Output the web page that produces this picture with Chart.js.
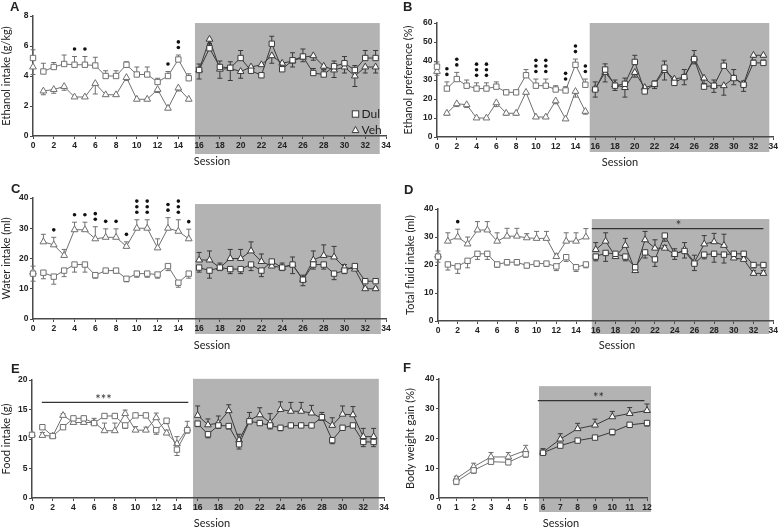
<!DOCTYPE html>
<html><head><meta charset="utf-8">
<script src="https://cdn.jsdelivr.net/npm/chart.js@4"></script>
<style>
html,body{margin:0;padding:0;background:#fff;}
#wrap{position:relative;width:780px;height:527px;overflow:hidden;background:#fff;}
#wrap canvas{position:absolute;left:0;top:0;}
</style>
</head><body><div id="wrap"></div>
<script>
// ---------- DATA ----------
const sessions = [1,2,3,4,5,6,7,8,9,10,11,12,13,14,15,16,17,18,19,20,21,22,23,24,25,26,27,28,29,30,31,32,33];
const sessionsF = [1,2,3,4,5,6,7,8,9,10,11,12];
const sigSessions = [1,2,3,4,5,6,7,8,9,10,11,12,13,14,15];
const seriesNames = ['Dul','Veh'];

// A: Ethanol intake (g/kg)
const A_dul = [4.3,4.6,4.8,4.75,4.75,4.7,4.0,4.0,4.75,4.1,4.1,3.6,4.0,5.1,3.85, 4.4,5.85,4.6,4.55,5.2,4.35,4.05,6.15,4.45,5.05,5.3,4.2,4.1,4.65,4.85,4.4,5.2,5.2];
const A_veh = [3.0,3.1,3.3,2.6,2.6,3.5,2.75,2.75,3.9,2.45,2.45,3.1,1.85,3.2,2.45, 4.4,6.45,4.45,4.5,4.3,4.6,4.75,5.35,4.85,5.0,5.25,5.35,4.65,4.4,4.6,4.0,4.6,4.6];
const A_dulErr = [0.55,0.3,0.6,0.55,0.55,0.55,0.35,0.35,0.2,0.5,0.5,0.25,0.3,0.3,0.3, 0.4,0.3,0.4,0.4,0.5,0.3,0.1,0.5,0.2,0.5,0.5,0.3,0.3,0.35,0.45,0.3,0.5,0.5];
const A_vehErr = [0.25,0.25,0.25,0.1,0.1,0.7,0.1,0.1,0.2,0.1,0.1,0.2,0.1,0.2,0.1, 0.6,0.3,0.6,0.8,0.45,0.3,0.1,0.5,0.1,0.4,0.3,0.3,0.2,0.5,0.4,0.7,0.4,0.4];
const A_base = [5.2, 4.6];
const A_baseErr = [0.55, 0.5];
const A_sig = [0,0,0,1,1,0,0,0,0,0,0,0,1,2,0];

// B: Ethanol preference (%)
const B_dul = [25.5,30.5,27,25.5,25.5,26.5,23.5,23.5,32.5,27,27,25,24.5,38,27.5, 25,35.5,27,28,39.5,24,28,36.5,28.5,31.5,41,26.5,27,37.5,31,27.5,39,39];
const B_veh = [12.5,17.5,17,10,10,18,12.5,12.5,23.5,10.5,10.5,19,9.5,24,13.5, 25.5,34,27.5,26,34,26,27.5,35,30.5,31.5,41.5,31,27,27,31,28,43,43];
const B_dulErr = [3.5,3.5,3,3,3,2.5,0.5,0.5,3,3.5,3.5,2,2,3,3, 4,3,3,3,3.5,2,1.5,3.5,1.5,4,4.5,1.5,3,3,4.5,2,1.5,1.5];
const B_vehErr = [1,1.5,1.5,0.5,0.5,2,1,1,1,0.5,0.5,1.5,0.5,3,1.5, 4.5,5,3,5,2.5,3,2,5,2,4,3,3,3.5,5,3.5,4,1,1];
const B_base = [37, 34.5];
const B_baseErr = [2.5, 2];
const B_sig = [2,2,0,3,3,0,0,0,0,3,3,0,2,2,2];

// C: Water intake (ml)
const C_dul = [15.3,14,16,18,18,14.5,16,16,13.3,15,15,14.7,17.5,12,15, 17,16,17,16.5,16.5,18,16,19,17,18,13,18,18,15,16,17.5,12.5,12.5];
const C_veh = [25.5,24.5,21,29.5,29.5,26.5,27,27,24,30,30,23.5,30,29,26.5, 19.5,19.5,17,20,20,22.5,19,17.5,17,18,13,19.5,21,20.5,17,16.5,10,10];
const C_dulErr = [2,2.5,2,2.5,2.5,1,0.8,0.8,1,1.2,1.2,1.2,1.5,1.5,1.5, 1.5,2.5,1,1.5,1.5,2,2,1,1,3,2,1.5,1.5,2,1,1,0.5,0.5];
const C_vehErr = [2.5,2.5,2,2.5,2.5,4,2.8,2.8,1.5,2.8,2.8,3,3.5,3.8,3.2, 2.5,3,1.5,3,3,3,2.5,1.5,1.5,2.5,1.5,3,3.5,3.5,1,1,0.5,0.5];
const C_base = [15, 15.5];
const C_baseErr = [2.5, 2];
const C_sig = [0,1,0,1,1,2,1,1,1,3,3,0,2,3,1];

// D: Total fluid intake (ml)
const D_dul = [20.2,19.5,21.5,24,24,20.2,21,21,19.8,20.5,20.5,19.5,22.8,19.2,20.2, 23,24.3,24,23,19.2,24.5,22,30.5,24,25,20.5,23.7,24,23.7,24,24,20,20];
const D_veh = [28.5,30,27.5,32.5,32.5,28.5,30.3,30.3,29.7,29.5,29.5,23,28.5,28.5,30, 25.5,28.5,23,27,18,29,26,26,23.8,25.5,21,27.5,28.3,27,22.5,22,17,17];
const D_dulErr = [2,2.5,2.5,2,2,1,1,1,0.8,1,1,1.5,1.5,1.5,1.2, 1.5,3,1,1.5,1.5,2,2.5,2,2,2.5,2.5,1.5,3,3,1.5,1.5,1,1];
const D_vehErr = [3,2.8,2.5,3,3,3,2.8,2.8,1.5,2.5,2.5,1,3,3,3, 2.5,3,1,2.5,1,3,3,1,2,2.5,2.5,3,3,4,1,1,1,1];
const D_base = [23, 23.5];
const D_baseErr = [2, 1.5];
const D_sig = [0,1,0,0,0,0,0,0,0,0,0,0,0,0,0];

// E: Food intake (g)
const E_dul = [12,10.5,12,13.5,13.5,12.7,13.9,13.9,12.3,14,14,11.5,13.1,8.2,11.5, 12.6,10.8,12.3,12.2,9.1,13,12.7,12.3,11.9,12.3,12.3,12.3,13.7,9.8,11.9,12.3,9.5,9.5];
const E_veh = [10.6,10.5,14,12.8,12.8,12.8,11.4,11.4,14.3,11.5,11.5,13.6,11,9.2,11.7, 14,12.4,12.7,14.8,9.8,13.2,14.1,12.8,15,14.7,14.7,14.4,13.5,12.3,14.2,14.1,10.4,10.4];
const E_dulErr = [0.3,0.3,0.3,0.3,0.3,0.3,0.3,0.3,0.5,0.3,0.3,0.7,0.5,1,0.5, 0.5,0.6,0.5,0.5,0.8,0.3,0.3,0.6,0.5,0.3,0.3,0.3,0.3,0.6,0.3,0.3,0.8,0.8];
const E_vehErr = [0.5,0.3,0.3,0.5,0.5,0.7,1.3,1.3,0.6,0.6,0.5,0.8,0.5,1.2,1.3, 1.6,1,1.2,1,1,1.3,1.2,1.5,1.3,1.5,1.5,1.3,1,1.3,1.4,1.4,1.4,1.4];
const E_base = [10.7, 10.8];
const E_baseErr = [0.3, 0.3];

// F: Body weight gain (%)
const F_dul = [5.5,9.3,12.2,12,14.7,15.2,17.6,19.3,20.3,22.2,24.6,25.2];
const F_veh = [6.5,10.5,13.8,13.8,16,15.4,19.8,23.3,24.5,27.3,28.4,29.4];
const F_dulErr = [1,1,0.8,0.8,1,0.8,0.5,0.5,0.5,1,0.8,1];
const F_vehErr = [0.8,1.2,1.5,1.5,1.7,1.2,1.8,1.8,2,1.8,2,2.2];

// ---------- STYLE ----------
const SHADE = '#b3b3b3';
const LINE_PRE = '#707070';
const LINE_POST = '#3a3a3a';
const AXIS = '#4a4a4a';
const TXT = '#222';
const TICKFONT = {family:'"Liberation Sans", Arial, sans-serif', weight:'bold', size:8.5};
const LABELFONT = {family:'Lato, "Open Sans", sans-serif', size:11};
Chart.defaults.font.family = 'Lato, "Open Sans", sans-serif';

const panels = [
  {letter:'A', letterPos:[10,11], box:{L:33,R:386,T:16,B:136}, yW:33, yMax:8, yStep:2, xMax:34, xStep:2,
   yTitle:'Ethanol intake (g/kg)', xTitlePos:[212,161], xs:sessions,
   dul:A_dul, veh:A_veh, dulErr:A_dulErr, vehErr:A_vehErr, dirs:[1,-1], base:A_base, baseErr:A_baseErr,
   breakAfter:15, shade:{x0:15.6,x1:33.4,yTop:7.53,ext:18}, sig:A_sig, legend:{x:355.5,y:114,dy:16}},
  {letter:'B', letterPos:[403,11], box:{L:437,R:774,T:23,B:137}, yW:35.6, yMax:60, yStep:10, xMax:34, xStep:2,
   yTitle:'Ethanol preference (%)', xTitlePos:[620,162], xs:sessions,
   dul:B_dul, veh:B_veh, dulErr:B_dulErr, vehErr:B_vehErr, dirs:[1,-1], base:B_base, baseErr:B_baseErr,
   breakAfter:15, shade:{x0:15.44,x1:33.6,yTop:60,ext:15}, sig:B_sig},
  {letter:'C', letterPos:[11,193], box:{L:33,R:386,T:198,B:319}, yW:33, yMax:40, yStep:10, xMax:34, xStep:2,
   yTitle:'Water intake (ml)', xTitlePos:[212,345], xs:sessions,
   dul:C_dul, veh:C_veh, dulErr:C_dulErr, vehErr:C_vehErr, dirs:[-1,1], base:C_base, baseErr:C_baseErr,
   breakAfter:15, shade:{x0:15.6,x1:33.5,yTop:38,ext:15}, sig:C_sig},
  {letter:'D', letterPos:[404,194], box:{L:438,R:774,T:209,B:321}, yW:34.6, yMax:40, yStep:10, xMax:34, xStep:2,
   yTitle:'Total fluid intake (ml)', xTitlePos:[617,345], xs:sessions,
   dul:D_dul, veh:D_veh, dulErr:D_dulErr, vehErr:D_vehErr, dirs:[-1,1], base:D_base, baseErr:D_baseErr,
   breakAfter:15, shade:{x0:15.6,x1:33.6,yTop:36.4,ext:13}, sig:D_sig,
   bar:{x0:15.6,x1:33,y:33,label:'*',labelX:24.4}},
  {letter:'E', letterPos:[11,373], box:{L:32,R:384,T:380,B:498}, yW:32, yMax:20, yStep:5, xMax:34, xStep:2,
   yTitle:'Food intake (g)', xTitlePos:[212,523], xs:sessions,
   dul:E_dul, veh:E_veh, dulErr:E_dulErr, vehErr:E_vehErr, dirs:[-1,1], base:E_base, baseErr:E_baseErr,
   breakAfter:15, shade:{x0:15.55,x1:33.5,yTop:20.2,ext:12},
   bar:{x0:0.95,x1:15.1,y:16.2,label:'***',labelX:6.9}},
  {letter:'F', letterPos:[403,372], box:{L:439,R:647,T:379,B:498}, yW:35.6, yMax:40, yStep:10, xMax:12, xStep:1,
   yTitle:'Body weight gain (%)', xTitlePos:[561,523], xs:sessionsF,
   dul:F_dul, veh:F_veh, dulErr:F_dulErr, vehErr:F_vehErr, dirs:[-1,1],
   breakAfter:5, shade:{x0:5.77,x1:12.23,yTop:37.6,ext:14},
   bar:{x0:5.7,x1:11.85,y:32.7,label:'**',labelX:9.2}}
];

// ---------- DRAWING ----------
const wrap = document.getElementById('wrap');
const XH = 20;

function overlay(p){
  const colorAt = x => (x <= p.breakAfter ? LINE_PRE : LINE_POST);
  return {
    id:'overlay',
    beforeDraw(chart){
      const ctx = chart.ctx, xs = chart.scales.x, ys = chart.scales.y, s = p.shade;
      const x0 = xs.getPixelForValue(s.x0), x1 = xs.getPixelForValue(s.x1);
      const y0 = ys.getPixelForValue(s.yTop), y1 = ys.getPixelForValue(0) + s.ext;
      ctx.save(); ctx.fillStyle = SHADE; ctx.fillRect(x0, y0, x1 - x0, y1 - y0); ctx.restore();
    },
    beforeDatasetsDraw(chart){
      const ctx = chart.ctx, ys = chart.scales.y;
      ctx.save(); ctx.lineWidth = 1;
      chart.data.datasets.forEach((ds, di) => {
        const meta = chart.getDatasetMeta(di);
        meta.data.forEach((el, i) => {
          const v = ds.data[i].y, e = ds.err[i];
          if (!e) return;
          ctx.strokeStyle = colorAt(ds.data[i].x);
          const ye = ys.getPixelForValue(v + ds.errDir * e);
          ctx.beginPath();
          ctx.moveTo(el.x, el.y); ctx.lineTo(el.x, ye);
          ctx.moveTo(el.x - 2.5, ye); ctx.lineTo(el.x + 2.5, ye);
          ctx.stroke();
        });
      });
      ctx.restore();
    },
    afterDatasetsDraw(chart){
      const ctx = chart.ctx, xs = chart.scales.x, ys = chart.scales.y;
      ctx.save();
      if (p.sig) {
        const main = chart.data.datasets.slice(0, 2);
        p.sig.forEach((n, i) => {
          if (!n) return;
          const s = sigSessions[i];
          let top = Infinity;
          main.forEach(ds => {
            const k = ds.data.findIndex(pt => pt.x === s);
            const v = ds.data[k].y, up = ds.errDir > 0 ? ds.err[k] : 0;
            top = Math.min(top, ys.getPixelForValue(v + up), ys.getPixelForValue(v) - 4);
          });
          const cx = xs.getPixelForValue(s);
          ctx.fillStyle = '#111';
          for (let k = 0; k < n; k++) {
            const cy = top - 7.5 - k * 5.6;
            ctx.beginPath(); ctx.arc(cx, cy, 1.8, 0, Math.PI * 2); ctx.fill();
          }
        });
      }
      if (p.bar) {
        const b = p.bar, yb = ys.getPixelForValue(b.y);
        ctx.strokeStyle = '#333'; ctx.lineWidth = 1.3;
        ctx.beginPath(); ctx.moveTo(xs.getPixelForValue(b.x0), yb); ctx.lineTo(xs.getPixelForValue(b.x1), yb); ctx.stroke();
        ctx.fillStyle = '#333'; ctx.font = '13px Lato, sans-serif';
        ctx.textAlign = 'center'; ctx.textBaseline = 'alphabetic';
        ctx.fillText(b.label, xs.getPixelForValue(b.labelX), yb + 1.5);
      }
      if (p.legend) {
        const L = p.legend;
        ctx.strokeStyle = LINE_POST; ctx.fillStyle = '#fff'; ctx.lineWidth = 1;
        ctx.fillRect(L.x - 3.2, L.y - 3.2, 6.4, 6.4); ctx.strokeRect(L.x - 3.2, L.y - 3.2, 6.4, 6.4);
        const ty = L.y + L.dy;
        ctx.beginPath(); ctx.moveTo(L.x, ty - 3.6); ctx.lineTo(L.x + 3.4, ty + 2.6); ctx.lineTo(L.x - 3.4, ty + 2.6); ctx.closePath();
        ctx.fill(); ctx.stroke();
        ctx.fillStyle = TXT; ctx.font = '12px Lato, sans-serif'; ctx.textAlign = 'left'; ctx.textBaseline = 'middle';
        ctx.fillText(seriesNames[0], L.x + 6, L.y + 0.5);
        ctx.fillText(seriesNames[1], L.x + 6, ty + 0.5);
      }
      ctx.restore();
    },
    afterDraw(chart){
      const ctx = chart.ctx;
      ctx.save();
      ctx.fillStyle = TXT; ctx.font = 'bold 13px "Liberation Sans", Arial, sans-serif';
      ctx.textAlign = 'left'; ctx.textBaseline = 'alphabetic';
      ctx.fillText(p.letter, p.letterPos[0], p.letterPos[1]);
      ctx.font = '11px Lato, sans-serif'; ctx.textAlign = 'center'; ctx.textBaseline = 'middle';
      ctx.fillText('Session', p.xTitlePos[0], p.xTitlePos[1]);
      ctx.restore();
    }
  };
}

function series(label, xs, ys, errs, dir, style, breakAfter, showLine){
  const colorAt = x => (x <= breakAfter ? LINE_PRE : LINE_POST);
  return {
    label, data: xs.map((x, i) => ({x, y: ys[i]})), err: errs, errDir: dir,
    showLine, pointStyle: style, pointRadius: style === 'rect' ? 3.8 : 3.9,
    pointBackgroundColor: '#fff', pointBorderColor: c => colorAt(c.raw ? c.raw.x : 0), pointBorderWidth: 1,
    borderColor: LINE_POST, borderWidth: 1, fill: false, tension: 0, clip: false,
    segment: { borderColor: c => (c.p0.parsed.x === breakAfter ? 'rgba(0,0,0,0)' : colorAt(c.p0.parsed.x)) }
  };
}

function axisCommon(){
  return {
    grid: {display:true, drawOnChartArea:false, drawTicks:true, tickLength:3, color:AXIS, lineWidth:1},
    border: {display:true, color:AXIS, width:1.5}
  };
}

panels.forEach(p => {
  const cv = document.createElement('canvas');
  cv.width = 780; cv.height = 527;
  wrap.appendChild(cv);
  const datasets = [
    series(seriesNames[0], p.xs, p.dul, p.dulErr, p.dirs[0], 'rect', p.breakAfter, true),
    series(seriesNames[1], p.xs, p.veh, p.vehErr, p.dirs[1], 'triangle', p.breakAfter, true)
  ];
  if (p.base) {
    datasets.push(series(seriesNames[0] + ' baseline', [0], [p.base[0]], [p.baseErr[0]], p.dirs[0], 'rect', p.breakAfter, false));
    datasets.push(series(seriesNames[1] + ' baseline', [0], [p.base[1]], [p.baseErr[1]], p.dirs[1], 'triangle', p.breakAfter, false));
  }
  const b = p.box;
  new Chart(cv, {
    type: 'line',
    data: { datasets },
    options: {
      responsive: false, animation: false, events: [],
      layout: { autoPadding: false, padding: { left: b.L - p.yW, right: 780 - b.R, top: b.T, bottom: 527 - b.B - XH } },
      plugins: { legend: {display:false}, tooltip: {enabled:false}, title: {display:false} },
      scales: {
        x: Object.assign(axisCommon(), {
          type: 'linear', min: 0, max: p.xMax,
          afterFit(s){ s.height = XH; },
          ticks: { stepSize: p.xStep, autoSkip: false, maxRotation: 0, padding: 2, color: TXT, font: TICKFONT }
        }),
        y: Object.assign(axisCommon(), {
          type: 'linear', min: 0, max: p.yMax,
          afterFit(s){ s.width = p.yW; },
          ticks: { stepSize: p.yStep, padding: 1.5, color: TXT, font: TICKFONT },
          title: { display: true, text: p.yTitle, color: TXT, font: LABELFONT, padding: {top:0, bottom:0} }
        })
      }
    },
    plugins: [overlay(p)]
  });
});
</script>
</body></html>
